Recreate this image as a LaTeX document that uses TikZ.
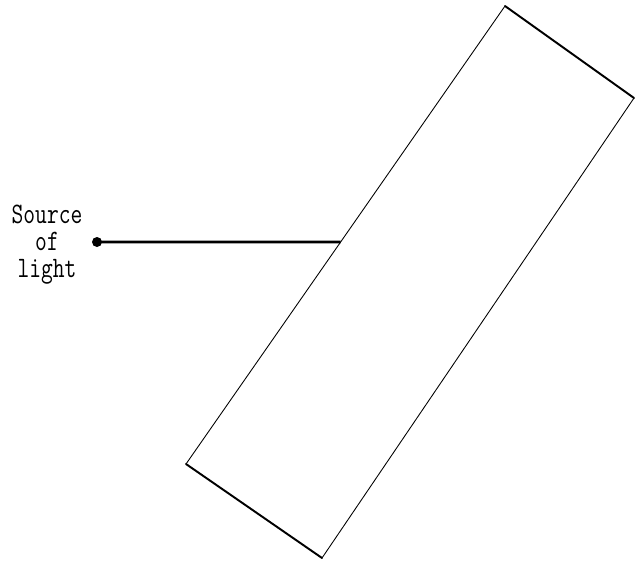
\documentclass[tikz,border=0pt]{standalone}
\usepackage{tikz}
\usetikzlibrary{calc}
\newcommand{\tallbox}[1]{\scalebox{1}[1.3]{\begin{tabular}{@{}c@{}}#1\end{tabular}}}
\begin{document}
\begin{tikzpicture}[x=0.02cm,y=-0.02cm,font=\ttfamily\fontsize{13}{11.8}\selectfont]
\useasboundingbox (0,0) rectangle (635,561);
% the glass slab, tilted
\coordinate (top) at (505,6);
\coordinate (right) at (634,98);
\coordinate (bottom) at (322,558);
\coordinate (left) at (186,464);
\draw[line width=0.5pt] (left) -- (top);
\draw[line width=0.5pt] (bottom) -- (right);
\draw[line width=1.1pt,line cap=round] (top) -- (right);
\draw[line width=1.1pt,line cap=round] (left) -- (bottom);
% source and the ray hitting the slab
\coordinate (src) at (97,242);
\coordinate (hit) at ($(left)!0.4847!(top)$);
\fill (src) circle (5);
\draw[line width=1.6pt] (src) -- (hit);
\node[inner sep=0pt] (lab) at (47,245) {\tallbox{Source\\of\\light}};
\end{tikzpicture}
\end{document}
